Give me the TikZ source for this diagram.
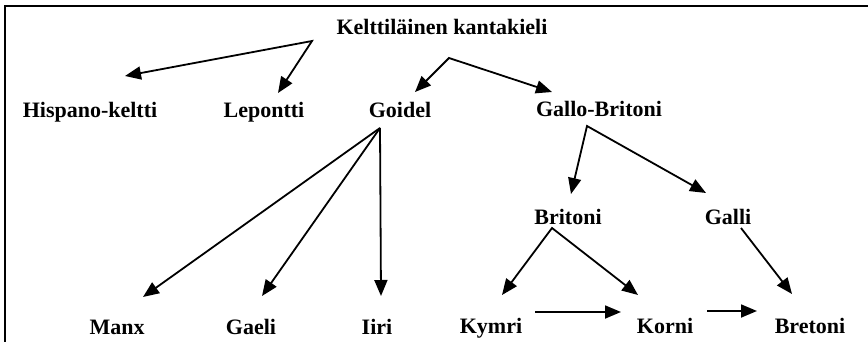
\documentclass[tikz,border=0pt]{standalone}
\usepackage{fontspec}
\setmainfont{Liberation Serif}
\usetikzlibrary{arrows.meta}
\tikzset{
  lbl/.style={anchor=base, inner sep=0pt, font=\fontsize{22}{24}\selectfont\bfseries},
  arr/.style={line width=1.8pt, -{Triangle[length=16pt,width=13pt]}},
  darr/.style={line width=1.8pt, {Triangle[length=16pt,width=13pt]}-{Triangle[length=16pt,width=13pt]}},
  frame/.style={line width=2pt}
}
\begin{document}
\begin{tikzpicture}[x=1pt,y=-1pt]
\useasboundingbox (0,0) rectangle (868,342);
% frame
\coordinate (fr1) at (868,6);
\coordinate (fr2) at (5,6);
\coordinate (fr3) at (5,342);
\draw[frame] (fr1) -- (fr2) -- (fr3);
% nodes
\node[lbl] (root) at (442,35) {Kelttiläinen kantakieli};
\node[lbl] (hisp) at (90,118) {Hispano-keltti};
\node[lbl] (lep) at (264,118) {Lepontti};
\node[lbl] (goi) at (400,118) {Goidel};
\node[lbl] (gb) at (599,117) {Gallo-Britoni};
\node[lbl] (bri) at (568,224) {Britoni};
\node[lbl] (gal) at (728,224) {Galli};
\node[lbl] (manx) at (117,334) {Manx};
\node[lbl] (gae) at (251,334) {Gaeli};
\node[lbl] (iiri) at (377,334) {Iiri};
\node[lbl] (kym) at (491,333) {Kymri};
\node[lbl] (kor) at (665,333) {Korni};
\node[lbl] (bre) at (810,333) {Bretoni};
% coordinates
\coordinate (a1) at (312,41);
\coordinate (t-hisp) at (125,76);
\coordinate (t-lep) at (278,93);
\coordinate (a2) at (449,58);
\coordinate (t-goi) at (415,92);
\coordinate (t-gb) at (552,92);
\coordinate (a3) at (380,128);
\coordinate (t-manx) at (143,297);
\coordinate (t-gae) at (262,296);
\coordinate (t-iiri) at (381,296);
\coordinate (a4) at (587,126);
\coordinate (t-bri) at (571,194);
\coordinate (t-gal) at (706,193);
\coordinate (a5) at (552,228);
\coordinate (t-kym) at (502,295);
\coordinate (t-kor) at (638,295);
\coordinate (a6) at (741,228);
\coordinate (t-bre) at (792,294);
\coordinate (s-kk) at (535,312);
\coordinate (e-kk) at (621,312);
\coordinate (s-kb) at (707,311);
\coordinate (e-kb) at (757,311);
% connectors
\draw[darr] (t-hisp) -- (a1) -- (t-lep);
\draw[darr] (t-goi) -- (a2) -- (t-gb);
\draw[arr] (a3) -- (t-manx);
\draw[arr] (a3) -- (t-gae);
\draw[arr] (a3) -- (t-iiri);
\draw[darr] (t-bri) -- (a4) -- (t-gal);
\draw[darr] (t-kym) -- (a5) -- (t-kor);
\draw[arr] (a6) -- (t-bre);
\draw[arr] (s-kk) -- (e-kk);
\draw[arr] (s-kb) -- (e-kb);
\end{tikzpicture}
\end{document}
